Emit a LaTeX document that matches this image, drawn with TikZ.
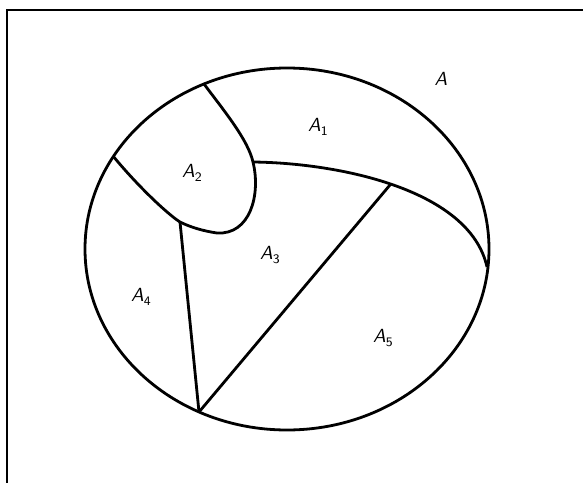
\documentclass[tikz,border=0pt]{standalone}
\newcommand{\pedice}[1]{\raisebox{-0.45ex}{\fontsize{6.5}{7}\selectfont\upshape #1}}
\tikzset{
  bordo/.style={line width=1.4pt, line join=round},
  etichetta/.style={font=\fontsize{9.5}{10}\selectfont\sffamily\itshape, inner sep=0pt}
}
\begin{document}
\begin{tikzpicture}[x=0.5pt, y=-0.5pt]
    \useasboundingbox (0,0) rectangle (583,482);

    % Cornice esterna (lati destro e basso fuori figura)
    \draw[line width=1pt] (7,490) -- (7,9.5) -- (600,9.5);

    % Punti sul bordo e di incrocio
    \coordinate (P1) at (204,84);
    \coordinate (P2) at (113,156);
    \coordinate (L) at (253,162);
    \coordinate (B) at (217,233);
    \coordinate (Q) at (180,222);
    \coordinate (R) at (199,412);
    \coordinate (T) at (487,267);

    % Bordo della regione A2
    \draw[bordo] (P1) .. controls (225,112) and (248,140) .. (L)
        .. controls (261,195) and (250,235) .. (B)
        .. controls (203,231) and (190,227) .. (Q)
        .. controls (166,213) and (136,184) .. (P2);

    % Insieme A (ellisse)
    \draw[bordo] (287,249) ellipse [x radius=202, y radius=181];

    % Arco tra A1 e le regioni A3, A5
    \draw[bordo] (L) .. controls (340,163) and (470,190) .. coordinate[pos=0.48] (S) (T);

    % Segmenti interni
    \draw[bordo] (Q) -- (R);
    \draw[bordo] (S) -- (R);

    % Etichette
    \node[etichetta] (lA) at (441,79) {A};
    \node[etichetta] (lA1) at (318,127) {A\pedice{1}};
    \node[etichetta] (lA2) at (192,173) {A\pedice{2}};
    \node[etichetta] (lA3) at (270,255) {A\pedice{3}};
    \node[etichetta] (lA4) at (141,297) {A\pedice{4}};
    \node[etichetta] (lA5) at (383,338) {A\pedice{5}};
\end{tikzpicture}
\end{document}
